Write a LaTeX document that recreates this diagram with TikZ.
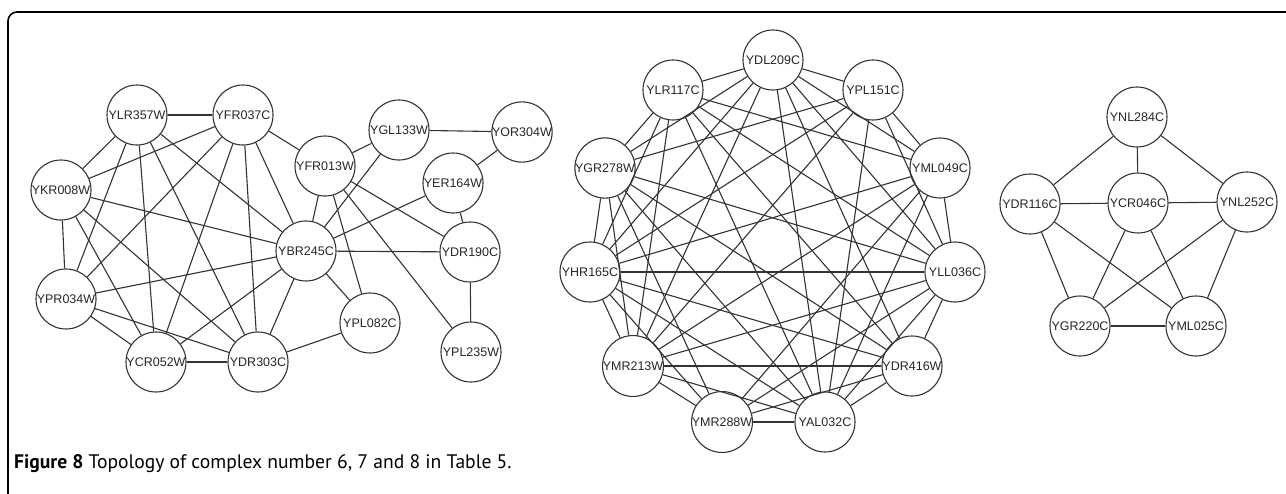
\documentclass[tikz,border=0pt]{standalone}
\usepackage{fontspec}
\setmainfont{Liberation Sans}
\newfontfamily\capfont{PT Sans}
\begin{document}
\begin{tikzpicture}[x=1pt,y=-1pt,
  gene/.style={circle,draw=black!80,line width=1.1pt,minimum size=60pt,inner sep=0pt,
    font=\fontsize{12.5}{12.5}\selectfont,text=black!85},
  edge/.style={draw=black!80,line width=1.1pt},
  frame/.style={draw=black,line width=1.6pt,rounded corners=9pt}]
\useasboundingbox (0,0) rectangle (1286,493);
\draw[frame] (8,500) -- (8,12) -- (1295,12);
% graph 1
\node[gene] (YLRiii) at (137,115) {YLR357W};
\node[gene] (YFRa) at (243,115) {YFR037C};
\node[gene] (YFRb) at (325,166) {YFR013W};
\node[gene] (YGL) at (399,130) {YGL133W};
\node[gene] (YOR) at (522,132) {YOR304W};
\node[gene] (YKR) at (61,190) {YKR008W};
\node[gene] (YER) at (453,183) {YER164W};
\node[gene] (YBR) at (306,251) {YBR245C};
\node[gene] (YDRa) at (470,252) {YDR190C};
\node[gene] (YPRa) at (66,299) {YPR034W};
\node[gene] (YPLa) at (370,323) {YPL082C};
\node[gene] (YCRa) at (156,362) {YCR052W};
\node[gene] (YDRb) at (258,362) {YDR303C};
\node[gene] (YPLb) at (471,352) {YPL235W};
\foreach \a/\b in {YLRiii/YFRa,YLRiii/YKR,YLRiii/YPRa,YLRiii/YCRa,YLRiii/YDRb,YLRiii/YBR,
  YFRa/YKR,YFRa/YPRa,YFRa/YCRa,YFRa/YDRb,YFRa/YBR,YFRa/YFRb,
  YKR/YPRa,YKR/YBR,YKR/YCRa,YKR/YDRb,
  YPRa/YBR,YPRa/YCRa,YPRa/YDRb,YCRa/YDRb,YCRa/YBR,YDRb/YBR,YDRb/YPLa,
  YBR/YPLa,YBR/YFRb,YBR/YGL,YBR/YER,YBR/YDRa,
  YFRb/YGL,YFRb/YDRa,YFRb/YPLa,YFRb/YPLb,
  YGL/YOR,YOR/YER,YER/YDRa,YDRa/YPLb}
  \draw[edge] (\a) -- (\b);
% graph 2
\node[gene] (A) at (773,60) {YDL209C};
\node[gene] (B) at (673,90) {YLR117C};
\node[gene] (C) at (873,90) {YPL151C};
\node[gene] (D) at (605,168) {YGR278W};
\node[gene] (E) at (940,168) {YML049C};
\node[gene] (F) at (590,272) {YHR165C};
\node[gene] (G) at (955,272) {YLL036C};
\node[gene] (H) at (633,366) {YMR213W};
\node[gene] (I) at (912,366) {YDR416W};
\node[gene] (J) at (722,422) {YMR288W};
\node[gene] (K) at (825,422) {YAL032C};
\foreach \a/\b in {A/B,A/C,A/D,A/E,A/F,A/G,A/H,A/I,A/K,
  B/D,B/E,B/F,B/G,B/H,B/I,B/K,
  C/D,C/E,C/F,C/G,C/H,C/K,
  D/F,D/G,D/H,D/I,D/J,D/K,
  E/F,E/G,E/H,E/J,E/K,
  F/G,F/H,F/I,F/J,F/K,
  G/H,G/I,G/J,G/K,
  H/I,H/J,H/K,
  I/J,I/K,
  J/K}
  \draw[edge] (\a) -- (\b);
% graph 3
\node[gene] (P) at (1137,117) {YNL284C};
\node[gene] (Q) at (1030,204) {YDR116C};
\node[gene] (R) at (1138,203) {YCR046C};
\node[gene] (S) at (1247,202) {YNL252C};
\node[gene] (T) at (1080,326) {YGR220C};
\node[gene] (U) at (1196,326) {YML025C};
\foreach \a/\b in {P/Q,P/R,P/S,Q/R,R/S,Q/T,Q/U,R/T,R/U,S/T,S/U,T/U}
  \draw[edge] (\a) -- (\b);
% caption
\node[anchor=base west,inner sep=0pt,font=\capfont\fontsize{19.6}{19.6}\selectfont] (cap) at (14,468)
  {\textbf{Figure 8} Topology of complex number 6, 7 and 8 in Table 5.};
\end{tikzpicture}
\end{document}
